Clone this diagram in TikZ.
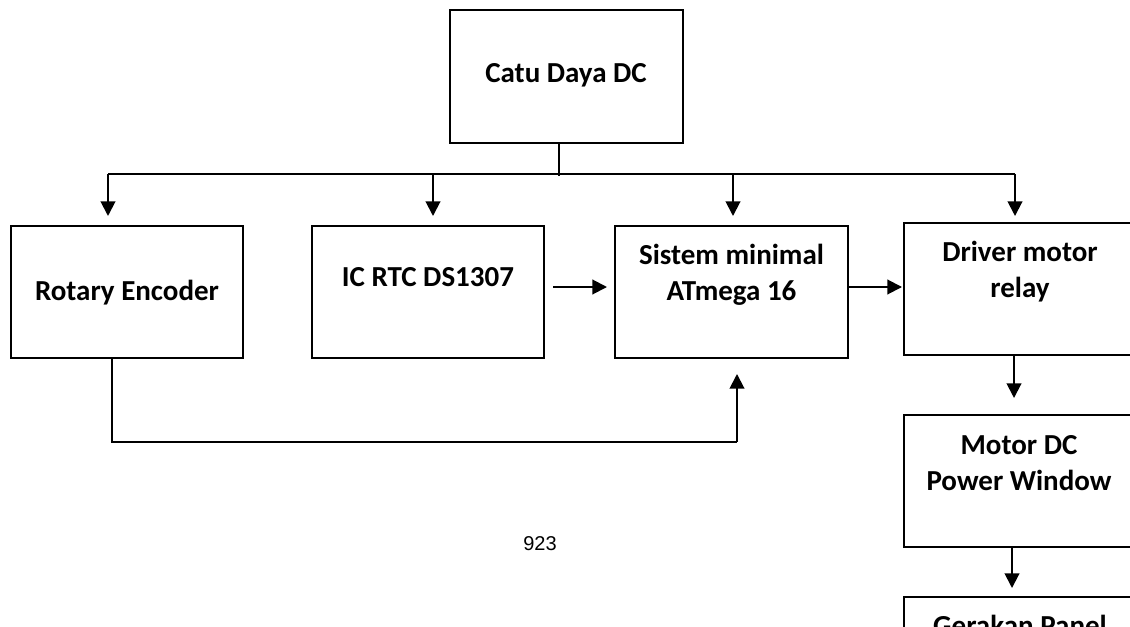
\documentclass[tikz,border=0pt]{standalone}
\usepackage{fontspec}
\setmainfont{Carlito}
\newfontfamily\arialf{Liberation Sans}
\usetikzlibrary{arrows.meta,calc}
\begin{document}
\begin{tikzpicture}[x=0.75pt,y=-0.75pt,
  box/.style={draw,line width=1.5pt,rectangle,inner sep=0pt,minimum width=174pt,minimum height=99pt},
  wbox/.style={box,minimum width=174.75pt},
  txt/.style={font=\fontsize{21.75pt}{27pt}\selectfont\bfseries,inner sep=0pt,align=center,anchor=base},
  ln/.style={line width=0.9pt},
  arr/.style={line width=1.5pt,-{Triangle[length=11pt,width=11pt]}}]
\useasboundingbox (0,0) rectangle (1130,627);
\clip (0,0) rectangle (1130,627);
% boxes
\node[wbox,minimum height=99.75pt] (catu) at (566.5,76.5) {};
\node[box] (rot) at (127,292) {};
\node[box] (rtc) at (428,292) {};
\node[wbox] (atm) at (731.5,292) {};
\node[box] (drv) at (1020,289) {};
\node[box] (mot) at (1019.5,481) {};
\node[box] (ger) at (1020,663) {};
% texts
\node[txt] (tcatu) at (566,83) {Catu Daya DC};
\node[txt] (trot) at (127,300) {Rotary Encoder};
\node[txt] (trtc) at (428,286) {IC RTC DS1307};
\node[txt] (tatm) at (731.5,300) {Sistem minimal\\ATmega 16};
\node[txt] (tdrv) at (1020,297) {Driver motor\\relay};
\node[txt] (tmot) at (1019,490) {Motor DC\\Power Window};
\node[txt] (tger) at (1020,635) {Gerakan Panel};
\node[font=\arialf\fontsize{15pt}{18pt}\selectfont,inner sep=0pt,anchor=base] (page) at (540,550) {923};
% power bus
\coordinate (bL) at ($(rot.north)+(-19,-51)$);
\coordinate (bR) at ($(drv.north)+(-5,-48)$);
\draw[ln] ($(catu.south)+(-7.5,0)$) -- ($(catu.south)+(-7.5,32)$);
\draw[ln] (bL) -- (bR);
\draw[arr] (bL) -- ($(rot.north)+(-19,-9)$);
\draw[arr] ($(rtc.north)+(5,-51)$) -- ($(rtc.north)+(5,-9)$);
\draw[arr] ($(atm.north)+(1.5,-51)$) -- ($(atm.north)+(1.5,-9)$);
\draw[arr] (bR) -- ($(drv.north)+(-5,-6)$);
% signal flow
\draw[arr] ($(rtc.east)+(8,-5)$) -- ($(atm.west)+(-7,-5)$);
\draw[arr] ($(atm.east)+(0,-5)$) -- ($(drv.west)+(-1,-2)$);
\draw[arr] ($(drv.south)+(-6,0)$) -- ($(mot.north)+(-5.5,-16)$);
\draw[arr] ($(mot.south)+(-7.5,0)$) -- ($(ger.north)+(-8,-8)$);
% feedback from rotary encoder
\coordinate (fb) at ($(atm.south)+(5.5,83)$);
\draw[ln] ($(rot.south)+(-15,0)$) |- (fb);
\draw[arr] (fb) -- ($(atm.south)+(5.5,15)$);
\end{tikzpicture}
\end{document}
